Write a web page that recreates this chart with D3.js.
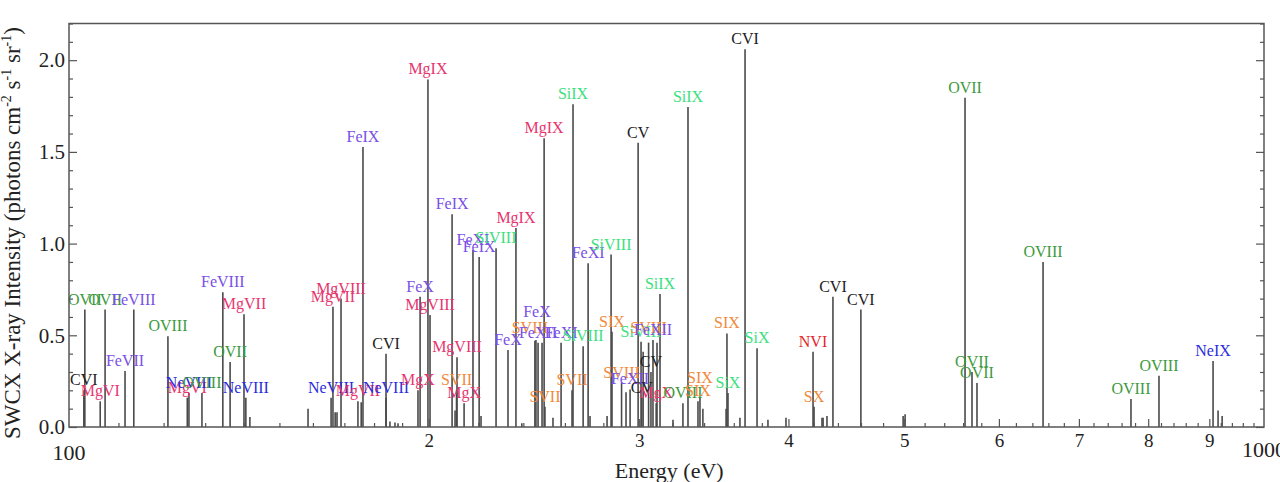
<!DOCTYPE html>
<html>
<head>
<meta charset="utf-8">
<script src="https://cdn.jsdelivr.net/npm/d3@7"></script>
<style>
  body { margin: 0; background: #fff; }
  text { font-family: "Liberation Serif", "DejaVu Serif", serif; }
</style>
</head>
<body>
<svg width="1280" height="482"></svg>
<script>
// line energies (eV), SWCX intensities and ion labels
var energies = [102.9, 103.1, 106.2, 107.2, 111.4, 113.3, 121.0, 125.6, 126.0, 129.2,
    134.5, 136.4, 140.1, 140.6, 141.7, 158.5, 165.7, 166.3, 167.0, 167.6,
    168.9, 174.5, 175.6, 176.2, 184.2, 184.2, 185.6, 187.4, 188.5, 195.9,
    196.7, 199.7, 200.5, 209.2, 210.4, 211.0, 211.2, 214.1, 217.8, 220.4,
    221.2, 227.7, 233.0, 236.6, 239.3, 245.4, 245.9, 246.9, 248.8, 249.8,
    250.2, 254.1, 258.1, 263.6, 264.1, 269.3, 271.9, 272.9, 282.0, 284.2,
    284.7, 290.0, 292.5, 294.8, 299.4, 301.1, 301.5, 302.3, 305.5, 306.9,
    308.1, 310.0, 310.5, 312.3, 320.2, 326.4, 329.6, 336.0, 337.3, 339.2,
    354.7, 355.3, 356.0, 364.3, 367.9, 376.5, 384.5, 398.1, 419.4, 420.2,
    426.7, 427.6, 430.8, 435.8, 459.9, 498.9, 500.8, 562.1, 569.7, 575.2,
    653.3, 773.9, 816.8, 906.5, 915.3, 922.5];
var intensities = [0.20, 0.64, 0.14, 0.64, 0.305, 0.64, 0.495, 0.16, 0.185, 0.185,
    0.735, 0.355, 0.615, 0.16, 0.055, 0.10, 0.16, 0.655, 0.08, 0.08,
    0.70, 0.14, 0.135, 1.527, 0.16, 0.40, 0.03, 0.025, 0.02, 0.20,
    0.71, 1.895, 0.61, 1.16, 0.09, 0.20, 0.38, 0.13, 0.965, 0.927,
    0.06, 0.975, 0.42, 1.085, 0.02, 0.47, 0.475, 0.46, 0.46, 1.575,
    0.11, 0.05, 0.46, 0.20, 1.76, 0.44, 0.893, 0.06, 0.06, 0.94,
    0.52, 0.24, 0.19, 0.205, 1.55, 0.465, 0.16, 0.41, 0.46, 0.30,
    0.475, 0.13, 0.46, 0.725, 0.04, 0.13, 1.745, 0.14, 0.16, 0.10,
    0.10, 0.51, 0.185, 0.05, 2.06, 0.43, 0.04, 0.05, 0.41, 0.11,
    0.05, 0.05, 0.06, 0.71, 0.64, 0.06, 0.07, 1.795, 0.30, 0.24,
    0.90, 0.153, 0.28, 0.36, 0.09, 0.06];
var ions = ["CVI", "OVII", "MgVI", "OVII", "FeVII", "FeVIII", "OVIII", "MgVI", "NeVIII", "OVIII",
    "FeVIII", "OVII", "MgVII", "NeVIII", "", "", "NeVIII", "MgVII", "", "",
    "MgVIII", "MgVII", "", "FeIX", "NeVIII", "CVI", "", "", "", "MgX",
    "FeX", "MgIX", "MgVIII", "FeIX", "", "SVII", "MgVIII", "MgX", "FeXI", "FeIX",
    "", "SiVIII", "FeX", "MgIX", "", "SVIII", "FeX", "FeXII", "", "MgIX",
    "SVII", "", "FeXI", "SVII", "SiIX", "SiVIII", "FeXI", "", "", "SiVIII",
    "SIX", "SVIII", "", "FeXII", "CV", "SiVIII", "CV", "", "SVIII", "CV",
    "FeXII", "MgX", "", "SiIX", "", "OVIII", "SiIX", "SIX", "SIX", "",
    "", "SIX", "SiX", "", "CVI", "SiX", "", "", "NVI", "SX",
    "", "", "", "CVI", "CVI", "", "", "OVII", "OVII", "OVII",
    "OVIII", "OVIII", "OVIII", "NeIX", "", ""];

var xMajors = [200, 300, 400, 500, 600, 700, 800, 900];
var yMajors = [0, 0.5, 1.0, 1.5, 2.0];

// element colours
var elementColor = {
    "C": "#222222", "N": "#e3262c", "O": "#3e9a3e", "Ne": "#2d2ddb",
    "Mg": "#e63670", "Si": "#3de07e", "S": "#f08a3c", "Fe": "#7a50e6"
};
// a few labels stacked off their line top in the original
var labelNudge = {
    "FeX@245.9": [1, -18], "SVIII@245.4": [-5, -3],
    "SVIII@305.5": [0, -5], "SIX@337.3": [0, -10]
};

var svg = d3.select("svg");
var margin = {left: 69, right: 16, top: 23.5, bottom: 55};
var width = 1280, height = 482;

var x = d3.scaleLog().domain([100, 1000]).range([margin.left, width - margin.right]);
var y = d3.scaleLinear().domain([0, 2.2]).range([height - margin.bottom, margin.top]);

var lines = energies.map(function(e, i){
    return {e: e, v: intensities[i], ion: ions[i]};
});

// stick spectrum
svg.append("g").selectAll("line")
    .data(lines).enter()
    .append("line")
    .attr("x1", d => x(d.e)).attr("x2", d => x(d.e))
    .attr("y1", y(0)).attr("y2", d => y(d.v))
    .attr("stroke", "#4a4a4a").attr("stroke-width", 1.6);

// ion labels
svg.append("g").selectAll("text")
    .data(lines.filter(d => d.ion !== "")).enter()
    .append("text")
    .attr("x", function(d){ var n = labelNudge[d.ion + "@" + d.e]; return x(d.e) + (n ? n[0] : 0); })
    .attr("y", function(d){ var n = labelNudge[d.ion + "@" + d.e]; return y(d.v) - 5 + (n ? n[1] : 0); })
    .attr("text-anchor", "middle")
    .attr("font-size", 16)
    .attr("fill", d => elementColor[d.ion.match(/^[A-Z][a-z]?/)[0]])
    .text(d => d.ion);

// axes
var xMinors = d3.range(110, 200, 10).concat(d3.range(220, 1000, 20)).filter(v => xMajors.indexOf(v) < 0);
var yMinors = d3.range(0, 2.21, 0.1).filter(v => Math.abs(v * 2 - Math.round(v * 2)) > 1e-6);

var styleAxis = function(g){
    g.select(".domain").remove();
    g.selectAll("line").attr("stroke", "#555").attr("stroke-width", 1.2);
    g.selectAll("text").attr("fill", "#222").style("font-family", "Liberation Serif");
};

svg.append("g").attr("transform", "translate(0," + y(0) + ")")
    .call(d3.axisBottom(x).tickValues(xMajors).tickFormat(d => d / 100).tickSize(-8).tickPadding(7))
    .call(styleAxis).selectAll("text").attr("font-size", 19);
svg.append("g").attr("transform", "translate(0," + y(0) + ")")
    .call(d3.axisBottom(x).tickValues(xMinors).tickFormat("").tickSize(-4))
    .call(styleAxis);

svg.append("g").attr("transform", "translate(" + margin.left + ",0)")
    .call(d3.axisLeft(y).tickValues(yMajors).tickFormat(d3.format(".1f")).tickSize(-8).tickPadding(4))
    .call(styleAxis).selectAll("text").attr("font-size", 21);
svg.append("g").attr("transform", "translate(" + margin.left + ",0)")
    .call(d3.axisLeft(y).tickValues(yMinors).tickFormat("").tickSize(-4))
    .call(styleAxis);
svg.append("g").attr("transform", "translate(" + (width - margin.right) + ",0)")
    .call(d3.axisRight(y).tickValues(yMajors).tickFormat("").tickSize(-8))
    .call(styleAxis);
svg.append("g").attr("transform", "translate(" + (width - margin.right) + ",0)")
    .call(d3.axisRight(y).tickValues(yMinors).tickFormat("").tickSize(-4))
    .call(styleAxis);

// decade labels
[100, 1000].forEach(function(v){
    svg.append("text")
        .attr("x", x(v)).attr("y", v === 100 ? 460 : 457)
        .attr("text-anchor", "middle").attr("font-size", 22).attr("fill", "#222")
        .text(v);
});

// frame
svg.append("rect")
    .attr("x", margin.left).attr("y", margin.top)
    .attr("width", width - margin.right - margin.left)
    .attr("height", y(0) - margin.top)
    .attr("fill", "none").attr("stroke", "#555").attr("stroke-width", 1.5);

// axis titles
svg.append("text")
    .attr("x", x(300) + 30).attr("y", 478)
    .attr("text-anchor", "middle").attr("font-size", 22).attr("fill", "#222")
    .text("Energy (eV)");

var yTitle = svg.append("text")
    .attr("transform", "translate(20," + 233 + ") rotate(-90)")
    .attr("text-anchor", "middle").attr("font-size", 23).attr("fill", "#222");
yTitle.append("tspan").text("SWCX X-ray Intensity (photons cm");
yTitle.append("tspan").attr("dy", -9).attr("font-size", 14).text("-2");
yTitle.append("tspan").attr("dy", 9).text(" s");
yTitle.append("tspan").attr("dy", -9).attr("font-size", 14).text("-1");
yTitle.append("tspan").attr("dy", 9).text(" sr");
yTitle.append("tspan").attr("dy", -9).attr("font-size", 14).text("-1");
yTitle.append("tspan").attr("dy", 9).text(")");
</script>
</body>
</html>
